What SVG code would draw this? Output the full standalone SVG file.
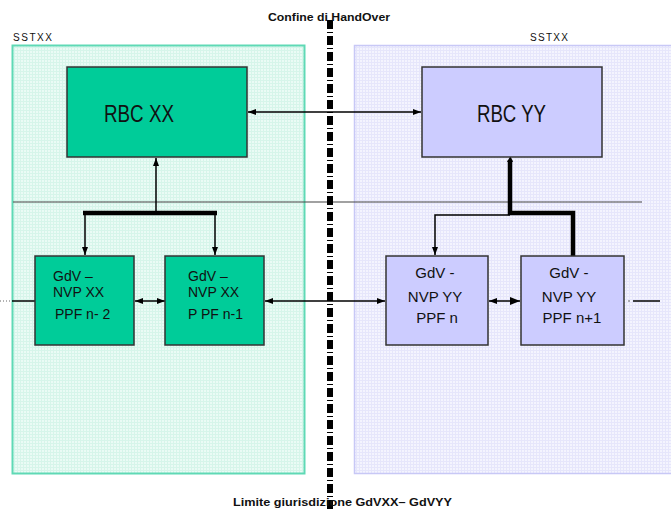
<svg xmlns="http://www.w3.org/2000/svg" width="671" height="510" viewBox="0 0 671 510">
  <style>
    .lbl { font-family: "Liberation Sans", Arial, sans-serif; fill: #111; }
    .hdr { font-family: "Liberation Sans", Arial, sans-serif; font-weight: bold; font-size: 10px; fill: #111; }
    .sst { font-family: "Liberation Sans", Arial, sans-serif; font-size: 10px; fill: #111; }
    .node-g { fill: #00cc99; stroke: #333; stroke-width: 1.5; }
    .node-v { fill: #ccccff; stroke: #333; stroke-width: 1.5; }
    .thin { fill: none; stroke: #000; stroke-width: 1.5; }
    .thick { fill: none; stroke: #000; stroke-width: 4.5; }
  </style>
  <defs>
    <pattern id="dotsGreen" width="3" height="3" patternUnits="userSpaceOnUse">
      <rect width="3" height="3" fill="#d6f5ea"/>
      <rect width="2" height="2" fill="#eafbf5"/>
    </pattern>
    <pattern id="dotsViolet" width="3" height="3" patternUnits="userSpaceOnUse">
      <rect width="3" height="3" fill="#e6e6fb"/>
      <rect width="2" height="2" fill="#f4f4fe"/>
    </pattern>
    <marker id="arr" viewBox="0 0 8 6" refX="8" refY="3" markerWidth="8" markerHeight="6" markerUnits="userSpaceOnUse" orient="auto-start-reverse">
      <path d="M0,0 L8,3 L0,6 z" fill="#000"/>
    </marker>
    <marker id="arrBig" viewBox="0 0 10 8" refX="10" refY="4" markerWidth="10" markerHeight="8" markerUnits="userSpaceOnUse" orient="auto-start-reverse">
      <path d="M0,0 L10,4 L0,8 z" fill="#000"/>
    </marker>
  </defs>

  <!-- white background -->
  <rect width="671" height="510" fill="#fff"/>

  <!-- subsystem areas -->
  <g id="area-sstxx-left">
    <rect x="12.5" y="45.5" width="292" height="428" fill="url(#dotsGreen)" stroke="#5fd9b5" stroke-width="2"/>
    <text class="sst" x="13" y="41" textLength="39" lengthAdjust="spacing">SSTXX</text>
  </g>
  <g id="area-sstxx-right">
    <rect x="354.5" y="45.5" width="330" height="428" fill="url(#dotsViolet)" stroke="#c8c8f6" stroke-width="1.5"/>
    <text class="sst" x="530" y="41" textLength="38" lengthAdjust="spacing">SSTXX</text>
  </g>

  <!-- separator between RBC level and GdV level -->
  <line x1="13" y1="202" x2="642" y2="202" stroke="#444" stroke-width="1.2"/>

  <!-- connectors -->
  <g id="connectors">
    <!-- RBC XX <-> RBC YY -->
    <line class="thin" x1="248" y1="112" x2="421" y2="112" marker-start="url(#arr)" marker-end="url(#arr)"/>

    <!-- RBC XX tree -->
    <line class="thin" x1="156" y1="213" x2="156" y2="158" marker-end="url(#arr)"/>
    <line class="thick" x1="83" y1="213" x2="217" y2="213"/>
    <polyline class="thin" points="85,213 85,255" marker-end="url(#arr)"/>
    <polyline class="thin" points="215,213 215,255" marker-end="url(#arr)"/>

    <!-- RBC YY tree -->
    <polyline class="thick" points="510,160 510,213 573,213 573,256"/>
    <path d="M507,162 L510.5,156 L513,162 z" fill="#000"/>
    <polyline class="thin" points="510,215 435,215 435,255" marker-end="url(#arr)"/>

    <!-- GdV chain -->
    <line x1="0" y1="301" x2="12" y2="301" stroke="#666" stroke-width="1" stroke-dasharray="1 2"/>
    <line class="thin" x1="12" y1="301" x2="35" y2="301"/>
    <line class="thin" x1="135" y1="301" x2="165" y2="301" marker-start="url(#arr)" marker-end="url(#arr)"/>
    <line class="thin" x1="265" y1="301" x2="385" y2="301" marker-start="url(#arr)" marker-end="url(#arr)"/>
    <line class="thin" x1="489" y1="301" x2="520" y2="301" marker-start="url(#arr)" marker-end="url(#arrBig)"/>
    <line x1="628" y1="301" x2="630" y2="301" stroke="#666" stroke-width="1"/>
    <line class="thin" x1="633" y1="301" x2="660" y2="301"/>
  </g>

  <!-- RBC nodes -->
  <g id="rbc-xx">
    <rect class="node-g" x="67" y="67" width="180" height="90"/>
    <text class="lbl" x="104" y="122" font-size="24" textLength="70" lengthAdjust="spacingAndGlyphs">RBC XX</text>
  </g>
  <g id="rbc-yy">
    <rect class="node-v" x="422" y="67" width="180" height="90"/>
    <text class="lbl" x="477" y="122" font-size="24" textLength="69" lengthAdjust="spacingAndGlyphs">RBC YY</text>
  </g>

  <!-- GdV nodes -->
  <g id="gdv-xx-n-2">
    <rect class="node-g" x="35" y="256" width="99" height="89"/>
    <text class="lbl" font-size="14">
      <tspan x="53" y="281">GdV –</tspan>
      <tspan x="53" y="297">NVP XX</tspan>
      <tspan x="55" y="319">PPF n- 2</tspan>
    </text>
  </g>
  <g id="gdv-xx-n-1">
    <rect class="node-g" x="165" y="256" width="99" height="89"/>
    <text class="lbl" font-size="14">
      <tspan x="188" y="281">GdV  –</tspan>
      <tspan x="188" y="297">NVP XX</tspan>
      <tspan x="188" y="319">P PF n-1</tspan>
    </text>
  </g>
  <g id="gdv-yy-n">
    <rect class="node-v" x="386" y="256" width="102" height="89"/>
    <text class="lbl" font-size="15" text-anchor="middle">
      <tspan x="437" y="278">GdV  -</tspan>
      <tspan x="437" y="302">NVP YY</tspan>
      <tspan x="437" y="323">PPF n</tspan>
    </text>
  </g>
  <g id="gdv-yy-n1">
    <rect class="node-v" x="521" y="256" width="103" height="89"/>
    <text class="lbl" font-size="15" text-anchor="middle">
      <tspan x="571" y="278">GdV  -</tspan>
      <tspan x="571" y="302">NVP YY</tspan>
      <tspan x="572" y="323">PPF n+1</tspan>
    </text>
  </g>

  <!-- handover boundary -->
  <g id="handover-boundary">
    <line x1="330" y1="20" x2="330" y2="510" stroke="#000" stroke-width="6" stroke-dasharray="9 3 1 3"/>
    <text class="hdr" x="268" y="21" textLength="122" lengthAdjust="spacingAndGlyphs">Confine di HandOver</text>
    <text class="hdr" x="233" y="506" textLength="219" lengthAdjust="spacingAndGlyphs">Limite giurisdizione GdVXX– GdVYY</text>
  </g>
</svg>
